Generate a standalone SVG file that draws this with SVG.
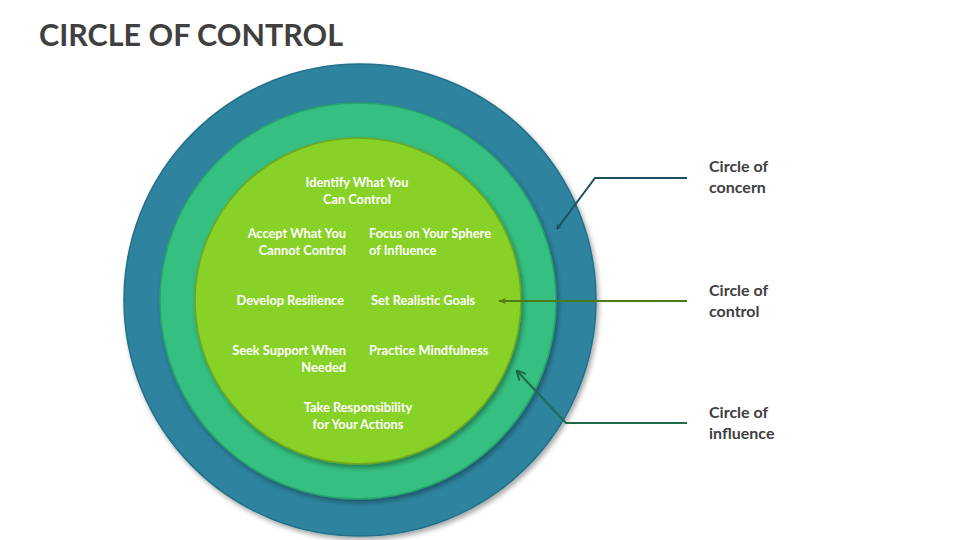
<svg xmlns="http://www.w3.org/2000/svg" width="960" height="540" viewBox="0 0 960 540">
<style>
.title{font-family:Lato,"Liberation Sans",sans-serif;font-weight:700;font-size:30.5px;fill:#404040}
.lbl{font-family:Lato,"Liberation Sans",sans-serif;font-weight:700;font-size:16px;fill:#404040}
.in{font-family:Lato,"Liberation Sans",sans-serif;font-weight:700;font-size:12.8px;fill:#ffffff}
.c{text-anchor:middle}.r{text-anchor:end}
.conn{fill:none;stroke-width:2}
</style>
<defs>
<filter id="sh" x="-10%" y="-10%" width="125%" height="125%">
<feDropShadow dx="2" dy="3" stdDeviation="2.5" flood-color="#000" flood-opacity="0.35"/>
</filter>
<marker id="a1" viewBox="0 0 10 10" refX="9" refY="5" markerWidth="5" markerHeight="5" orient="auto" markerUnits="userSpaceOnUse">
<path d="M0,0 L10,5 L0,10" fill="none" stroke="#1B4F5E" stroke-width="2"/>
</marker>
<marker id="a2" viewBox="0 0 10 10" refX="9" refY="5" markerWidth="8" markerHeight="8" orient="auto" markerUnits="userSpaceOnUse">
<path d="M0,1 L10,5 L0,9 L3,5 Z" fill="#4F7A1A"/>
</marker>
<marker id="a3" viewBox="0 0 10 10" refX="9" refY="5" markerWidth="10" markerHeight="10" orient="auto" markerUnits="userSpaceOnUse">
<path d="M0,0 L10,5 L0,10" fill="none" stroke="#1E6B48" stroke-width="2"/>
</marker>
</defs>
<rect width="960" height="540" fill="#ffffff"/>
<text class="title" x="39" y="46">CIRCLE OF CONTROL</text>

<g id="circle-concern">
<circle cx="360" cy="300" r="236" fill="#2E849F" stroke="#22718A" stroke-width="1.5" filter="url(#sh)"/>
</g>
<g id="circle-influence">
<circle cx="358" cy="301" r="198" fill="#34BF80" stroke="#27A36A" stroke-width="1.5" filter="url(#sh)"/>
</g>
<g id="circle-control">
<circle cx="358" cy="301" r="163" fill="#88D127" stroke="#6FA61E" stroke-width="1.5" filter="url(#sh)"/>
<text class="in c" x="357" y="187">Identify What You</text>
<text class="in c" x="357" y="204">Can Control</text>
<text class="in r" x="346" y="238">Accept What You</text>
<text class="in r" x="346" y="255">Cannot Control</text>
<text class="in" x="369" y="238">Focus on Your Sphere</text>
<text class="in" x="369" y="255">of Influence</text>
<text class="in r" x="344" y="305">Develop Resilience</text>
<text class="in" x="371" y="305">Set Realistic Goals</text>
<text class="in r" x="346" y="355">Seek Support When</text>
<text class="in r" x="346" y="372">Needed</text>
<text class="in" x="369" y="355">Practice Mindfulness</text>
<text class="in c" x="358" y="412">Take Responsibility</text>
<text class="in c" x="358" y="429">for Your Actions</text>
</g>

<g id="connectors">
<path class="conn" d="M687,178 L595,178 L557,229" stroke="#1B4F5E" marker-end="url(#a1)"/>
<path class="conn" d="M687,301 L499,301" stroke="#4F7A1A" marker-end="url(#a2)"/>
<path class="conn" d="M687,423 L566,423 L517,371" stroke="#1E6B48" marker-end="url(#a3)"/>
</g>

<g id="label-concern">
<text class="lbl" x="709" y="172">Circle of</text>
<text class="lbl" x="709" y="193">concern</text>
</g>
<g id="label-control">
<text class="lbl" x="709" y="296">Circle of</text>
<text class="lbl" x="709" y="317">control</text>
</g>
<g id="label-influence">
<text class="lbl" x="709" y="418">Circle of</text>
<text class="lbl" x="709" y="439">influence</text>
</g>
</svg>
